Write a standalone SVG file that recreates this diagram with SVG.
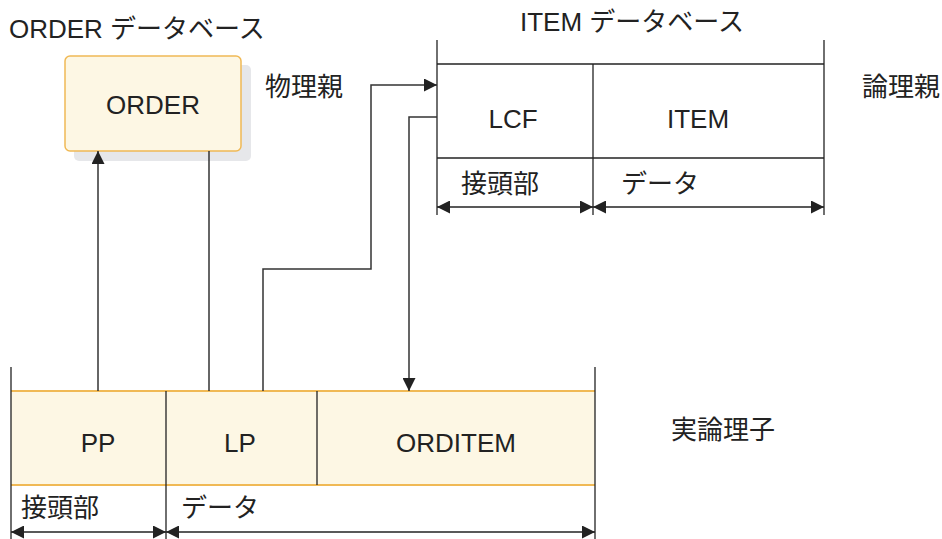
<svg xmlns="http://www.w3.org/2000/svg" width="942" height="539" viewBox="0 0 942 539">
<style>
text{font-family:"Liberation Sans","Noto Sans CJK JP",sans-serif;font-size:26px;fill:#222}
.c{text-anchor:middle}
.ln{stroke:#222;stroke-width:1.3;fill:none}
.cn{stroke:#333;stroke-width:1.5;fill:none}
.or{stroke:#f0b955;stroke-width:2;fill:none}
</style>
<defs>
<marker id="ah" markerWidth="13" markerHeight="13" refX="13" refY="6.5" orient="auto-start-reverse" markerUnits="userSpaceOnUse">
<path d="M0,0 L13,6.5 L0,13 z" fill="#222"/>
</marker>
</defs>
<rect width="942" height="539" fill="#fff"/>

<g id="order-db">
<text x="9" y="38">ORDER データベース</text>
<rect x="74" y="65" width="177" height="96" rx="5" fill="#e6e7ea"/>
<rect x="65" y="56" width="176" height="95" rx="5" fill="#fdf7e4" stroke="#f0b955" stroke-width="1.5"/>
<text class="c" x="153" y="114">ORDER</text>
<text x="265" y="96">物理親</text>
</g>

<g id="item-db">
<text class="c" x="632" y="31">ITEM データベース</text>
<line class="ln" x1="437" y1="40" x2="437" y2="215"/>
<line class="ln" x1="824" y1="40" x2="824" y2="215"/>
<line class="ln" x1="593" y1="64" x2="593" y2="215"/>
<line class="ln" x1="437" y1="64" x2="824" y2="64"/>
<line class="ln" x1="437" y1="158" x2="824" y2="158"/>
<text class="c" x="513" y="128">LCF</text>
<text class="c" x="698" y="128">ITEM</text>
<text x="461" y="193">接頭部</text>
<text x="621" y="193">データ</text>
<line class="ln" x1="437" y1="207" x2="593" y2="207" marker-start="url(#ah)" marker-end="url(#ah)"/>
<line class="ln" x1="593" y1="207" x2="824" y2="207" marker-start="url(#ah)" marker-end="url(#ah)"/>
<text x="862" y="96">論理親</text>
</g>

<g id="orditem">
<rect x="11" y="391" width="584" height="94" fill="#fdf7e4"/>
<line class="or" x1="11" y1="391" x2="595" y2="391"/>
<line class="or" x1="11" y1="485" x2="595" y2="485"/>
<line class="ln" x1="11" y1="367" x2="11" y2="539"/>
<line class="ln" x1="595" y1="367" x2="595" y2="539"/>
<line class="ln" x1="166" y1="391" x2="166" y2="539"/>
<line class="ln" x1="317" y1="391" x2="317" y2="485"/>
<text class="c" x="98" y="452">PP</text>
<text class="c" x="240" y="452">LP</text>
<text class="c" x="456" y="452">ORDITEM</text>
<text x="21" y="517">接頭部</text>
<text x="181" y="517">データ</text>
<line class="ln" x1="11" y1="532" x2="166" y2="532" marker-start="url(#ah)" marker-end="url(#ah)"/>
<line class="ln" x1="166" y1="532" x2="595" y2="532" marker-start="url(#ah)" marker-end="url(#ah)"/>
<text x="671" y="439">実論理子</text>
</g>

<g id="connectors">
<line class="cn" x1="98" y1="391" x2="98" y2="151" marker-end="url(#ah)"/>
<line class="cn" x1="209" y1="151" x2="209" y2="391"/>
<polyline class="cn" points="263,391 263,269 371,269 371,85 437,85" marker-end="url(#ah)"/>
<polyline class="cn" points="437,117 409,117 409,391" marker-end="url(#ah)"/>
</g>
</svg>
